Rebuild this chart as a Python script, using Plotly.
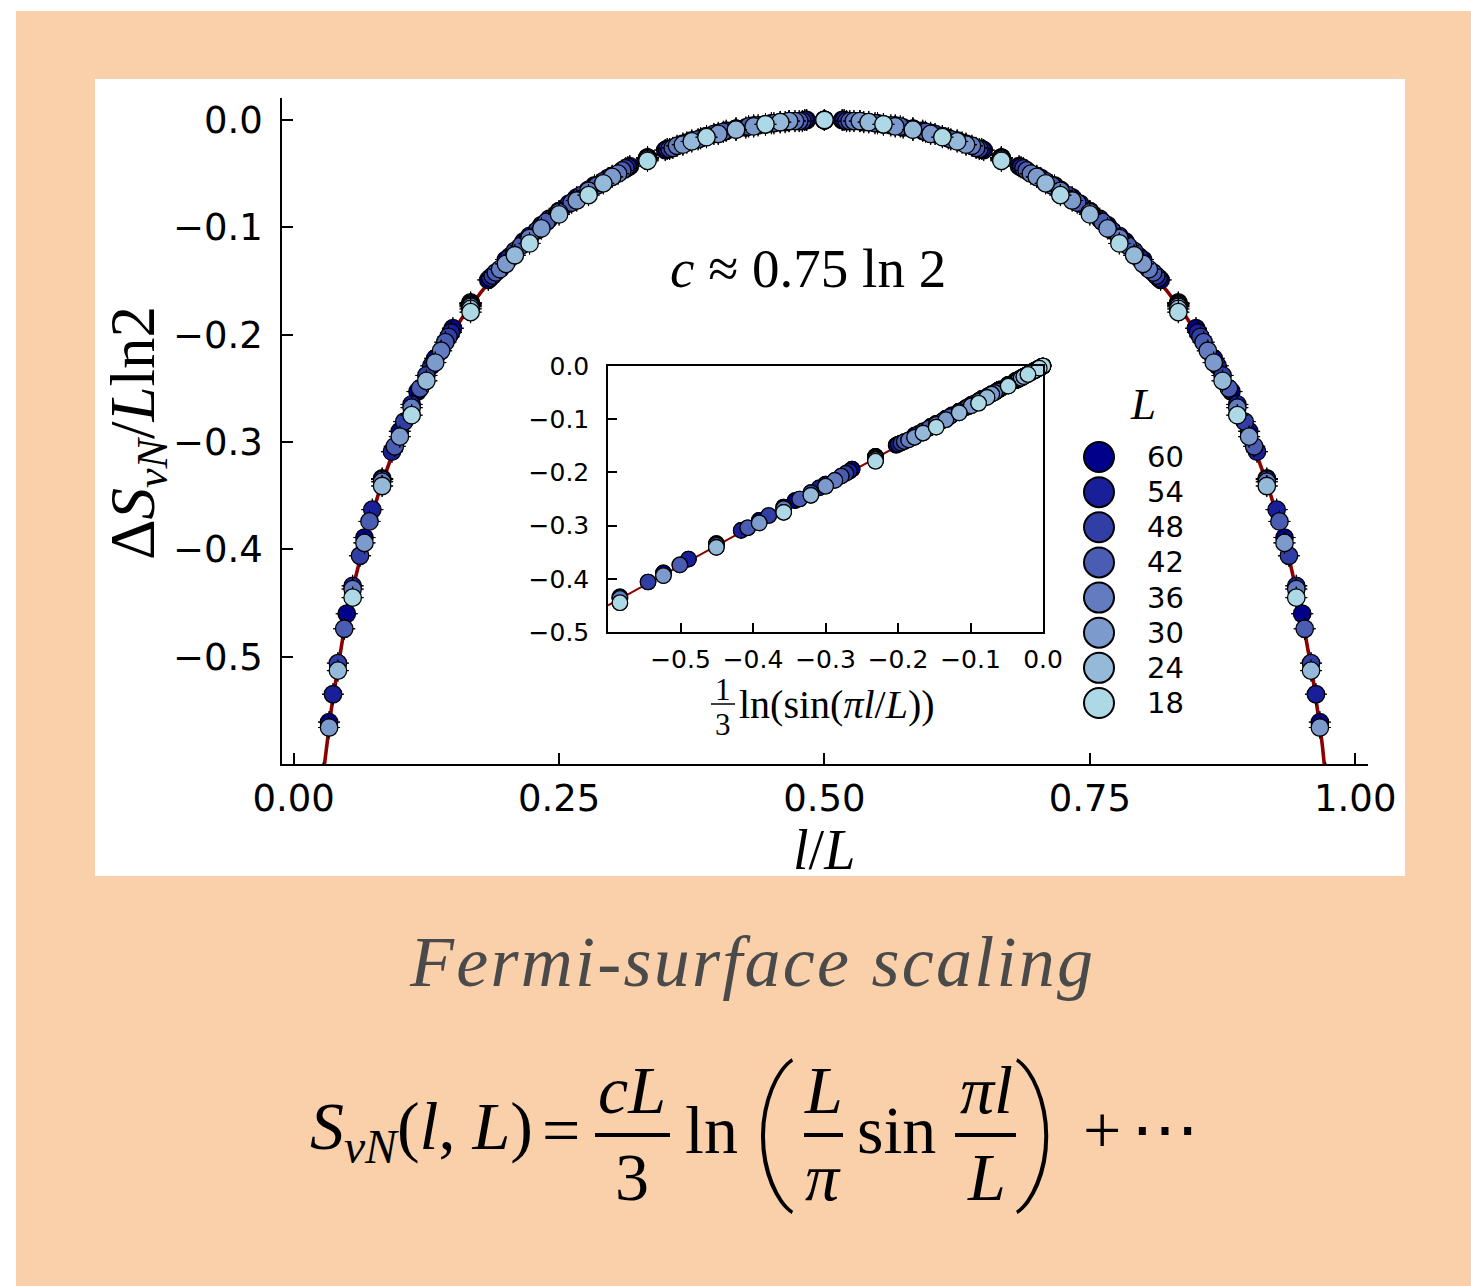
import numpy as np
import plotly.graph_objects as go

# ---------------- data ----------------
L_values = [60, 54, 48, 42, 36, 30, 24, 18]
colors = ["#00008b", "#191f98", "#313ea5", "#4a5db2", "#637bbf", "#7c9acc", "#94b9d9", "#add8e6"]
c_fit = 0.75  # c / ln2 of the fitted curve

# Delta S_vN / (L ln2) for l = 1 .. L-1
dS_L60 = [-0.733, -0.561, -0.460, -0.389, -0.334, -0.290, -0.253, -0.222, -0.194, -0.170, -0.149, -0.130,
          -0.113, -0.098, -0.085, -0.072, -0.061, -0.052, -0.043, -0.035, -0.028, -0.022, -0.017, -0.012,
          -0.008, -0.005, -0.003, -0.001, 0.0, 0.0, 0.0, -0.001, -0.003, -0.005, -0.008, -0.012, -0.017,
          -0.022, -0.028, -0.035, -0.043, -0.052, -0.061, -0.072, -0.085, -0.098, -0.113, -0.130, -0.149,
          -0.170, -0.194, -0.222, -0.253, -0.290, -0.334, -0.389, -0.460, -0.561, -0.733]
dS_L54 = [-0.708, -0.535, -0.434, -0.363, -0.309, -0.265, -0.229, -0.198, -0.171, -0.147, -0.127, -0.108,
          -0.092, -0.078, -0.065, -0.054, -0.044, -0.035, -0.027, -0.021, -0.015, -0.010, -0.007, -0.004,
          -0.002, 0.0, 0.0, 0.0, -0.002, -0.004, -0.007, -0.010, -0.015, -0.021, -0.027, -0.035, -0.044,
          -0.054, -0.065, -0.078, -0.092, -0.108, -0.127, -0.147, -0.171, -0.198, -0.229, -0.265, -0.309,
          -0.363, -0.434, -0.535, -0.708]
dS_L48 = [-0.679, -0.506, -0.406, -0.335, -0.281, -0.238, -0.202, -0.171, -0.145, -0.122, -0.103, -0.085,
          -0.070, -0.057, -0.045, -0.035, -0.027, -0.019, -0.013, -0.008, -0.005, -0.002, -0.001, 0.0,
          -0.001, -0.002, -0.005, -0.008, -0.013, -0.019, -0.027, -0.035, -0.045, -0.057, -0.070, -0.085,
          -0.103, -0.122, -0.145, -0.171, -0.202, -0.238, -0.281, -0.335, -0.406, -0.506, -0.679]
dS_L42 = [-0.647, -0.474, -0.374, -0.304, -0.250, -0.207, -0.172, -0.142, -0.117, -0.095, -0.077, -0.061,
          -0.047, -0.035, -0.026, -0.018, -0.011, -0.006, -0.003, -0.001, 0.0, -0.001, -0.003, -0.006,
          -0.011, -0.018, -0.026, -0.035, -0.047, -0.061, -0.077, -0.095, -0.117, -0.142, -0.172, -0.207,
          -0.250, -0.304, -0.374, -0.474, -0.647]
dS_L36 = [-0.609, -0.437, -0.337, -0.268, -0.215, -0.173, -0.139, -0.110, -0.086, -0.066, -0.050, -0.036,
          -0.024, -0.015, -0.009, -0.004, -0.001, 0.0, -0.001, -0.004, -0.009, -0.015, -0.024, -0.036,
          -0.050, -0.066, -0.086, -0.110, -0.139, -0.173, -0.215, -0.268, -0.337, -0.437, -0.609]
dS_L30 = [-0.566, -0.394, -0.295, -0.226, -0.174, -0.134, -0.101, -0.075, -0.053, -0.036, -0.023, -0.013,
          -0.006, -0.001, 0.0, -0.001, -0.006, -0.013, -0.023, -0.036, -0.053, -0.075, -0.101, -0.134,
          -0.174, -0.226, -0.295, -0.394, -0.566]
dS_L24 = [-0.513, -0.341, -0.243, -0.176, -0.126, -0.088, -0.059, -0.037, -0.020, -0.009, -0.002, 0.0,
          -0.002, -0.009, -0.020, -0.037, -0.059, -0.088, -0.126, -0.176, -0.243, -0.341, -0.513]
dS_L18 = [-0.445, -0.275, -0.179, -0.115, -0.070, -0.038, -0.016, -0.004, 0.0, -0.004, -0.016, -0.038,
          -0.070, -0.115, -0.179, -0.275, -0.445]
series = {60: dS_L60, 54: dS_L54, 48: dS_L48, 42: dS_L42, 36: dS_L36, 30: dS_L30, 24: dS_L24, 18: dS_L18}

main_xticks = [0, 0.25, 0.5, 0.75, 1]
main_xticktext = ["0.00", "0.25", "0.50", "0.75", "1.00"]
main_yticks = [0, -0.1, -0.2, -0.3, -0.4, -0.5]
ytick_text = ["0.0", "−0.1", "−0.2", "−0.3", "−0.4", "−0.5"]
inset_xticks = [-0.5, -0.4, -0.3, -0.2, -0.1, 0]
inset_xticktext = ["−0.5", "−0.4", "−0.3", "−0.2", "−0.1", "0.0"]

# ---------------- layout helpers ----------------
PL, PT, PW, PH = 282, 98, 1086, 666
def px(v): return (v - PL) / PW
def py(v): return (PT + PH - v) / PH

SERIF = "Liberation Serif"
SANS = "DejaVu Sans"
RED = "#8b0000"

fig = go.Figure()

# main panel: fitted curve then data
xf = np.linspace(0.001, 0.999, 900)
fig.add_trace(go.Scatter(x=xf, y=c_fit / 3 * np.log(np.sin(np.pi * xf)), mode="lines",
                         line=dict(color=RED, width=3.6), showlegend=False, hoverinfo="skip"))
for L, col in zip(L_values, colors):
    l = np.arange(1, L)
    z = np.zeros(L - 1)
    fig.add_trace(go.Scatter(x=l / L, y=series[L], mode="markers", name=str(L),
                             marker=dict(size=17.5, color=col, line=dict(color="black", width=1.3)),
                             error_x=dict(type="data", array=z, width=11, thickness=1, color="black"),
                             error_y=dict(type="data", array=z, width=11, thickness=1, color="black"),
                             showlegend=False))

# inset: vs (1/3) ln sin(pi l / L)
xi = np.linspace(-0.6, 0, 50)
fig.add_trace(go.Scatter(x=xi, y=c_fit * xi, mode="lines", line=dict(color=RED, width=2),
                         xaxis="x2", yaxis="y2", showlegend=False, hoverinfo="skip"))
for L, col in zip(L_values, colors):
    l = np.arange(1, L)
    xs = np.log(np.sin(np.pi * l / L)) / 3
    ys = np.array(series[L])
    m = xs >= -0.6
    fig.add_trace(go.Scatter(x=xs[m], y=ys[m], mode="markers", xaxis="x2", yaxis="y2", cliponaxis=False,
                             marker=dict(size=15.5, color=col, line=dict(color="black", width=1.2)),
                             showlegend=False))

# legend drawn as its own small panel
fig.add_trace(go.Scatter(x=[0] * len(L_values), y=list(range(len(L_values))), mode="markers",
                         xaxis="x3", yaxis="y3", cliponaxis=False, showlegend=False, hoverinfo="skip",
                         marker=dict(size=30, color=colors, line=dict(color="black", width=2))))

axstyle = dict(showgrid=False, zeroline=False, showline=True, linecolor="black", linewidth=1.5,
               ticks="inside", tickcolor="black", tickwidth=1.5)
fig.update_layout(
    width=1471, height=1286, autosize=False,
    margin=dict(l=PL, r=1471 - PL - PW, t=PT, b=1286 - PT - PH),
    paper_bgcolor="white", plot_bgcolor="white",
    xaxis=dict(domain=[0, 1], range=[-0.011, 1.012], tickvals=main_xticks, ticktext=main_xticktext,
               ticklen=11, tickfont=dict(family=SANS, size=37, color="black"), ticklabelstandoff=1, **axstyle),
    yaxis=dict(domain=[0, 1], range=[-0.6, 0.0205], tickvals=main_yticks, ticktext=ytick_text,
               ticklen=11, tickfont=dict(family=SANS, size=37, color="black"), ticklabelstandoff=10, **axstyle),
    xaxis2=dict(domain=[px(608), px(1043)], range=[-0.6, 0], anchor="y2", mirror=True,
                tickvals=inset_xticks, ticktext=inset_xticktext,
                ticklen=9, tickfont=dict(family=SANS, size=25, color="black"), ticklabelstandoff=4, **axstyle),
    yaxis2=dict(domain=[py(632), py(366)], range=[-0.5, 0], anchor="x2", mirror=True,
                tickvals=main_yticks, ticktext=ytick_text,
                ticklen=9, tickfont=dict(family=SANS, size=25, color="black"), ticklabelstandoff=12, **axstyle),
    xaxis3=dict(domain=[px(1079), px(1199)], range=[-1, 5], visible=False, anchor="y3"),
    yaxis3=dict(domain=[py(720), py(440)], range=[7.484, -0.484], visible=False, anchor="x3"),
)

shapes = [
    dict(type="rect", xref="paper", yref="paper", x0=px(16), x1=px(1480), y0=py(1300), y1=py(11),
         fillcolor="#f9d0aa", line=dict(width=0), layer="below"),
    dict(type="rect", xref="paper", yref="paper", x0=px(95), x1=px(1405), y0=py(876), y1=py(79),
         fillcolor="white", line=dict(width=0), layer="below"),
    dict(type="line", xref="paper", yref="paper", x0=px(711), x1=px(735), y0=py(704), y1=py(704),
         line=dict(color="black", width=1.5)),
]
for a, b in [(595, 670), (804, 843), (955, 1016)]:
    shapes.append(dict(type="line", xref="paper", yref="paper", x0=px(a), x1=px(b), y0=py(1135), y1=py(1135),
                       line=dict(color="black", width=4)))
fig.update_layout(shapes=shapes)

anns = []
def ann(text, xp, yp, size, family=SERIF, color="black", xanchor="center", angle=0, weight=None):
    font = dict(family=family, size=size, color=color)
    if weight is not None:
        font["weight"] = weight
    anns.append(dict(text=text, x=px(xp), y=py(yp), xref="paper", yref="paper", showarrow=False,
                     xanchor=xanchor, yanchor="middle", textangle=angle, font=font))

ann("Δ<i>S</i><sub><i>vN</i></sub>/<i>L</i>ln2", 137, 433, 63, angle=-90)
ann("<i>l</i>/<i>L</i>", 824, 850, 56)
ann("<i>c</i> ≈ 0.75 ln 2", 808, 268, 55)
ann("1", 723, 689, 31)
ann("3", 723, 724, 31)
ann("ln(sin(<i>πl</i>/<i>L</i>))", 737, 704, 40, xanchor="left")
ann("<i>L</i>", 1143, 404, 45)
for i, L in enumerate(L_values):
    anns.append(dict(text=str(L), x=2.3, y=i, xref="x3", yref="y3", showarrow=False, xanchor="left",
                     yanchor="middle", font=dict(family=SANS, size=29, color="black")))
SP = '<span style="font-size:9px"> </span>'
ann("<i>" + SP.join("Fermi-surface scaling") + "</i>", 751, 962, 72, color="#4a4a4a")
ann("<i>S</i><sub><i>vN</i></sub>(<i>l</i>, <i>L</i>)", 308, 1130, 68, xanchor="left")
ann("=", 561, 1130, 68)
ann("<i>cL</i>", 632, 1090, 68)
ann("3", 632, 1177, 68)
ann("ln", 711, 1130, 68)
ann("(", 772, 1127, 152, family="Roboto", weight=100)
ann("<i>L</i>", 823, 1090, 68)
ann("<i>π</i>", 823, 1177, 68)
ann("sin", 896, 1130, 68)
ann("<i>πl</i>", 986, 1090, 68)
ann("<i>L</i>", 986, 1177, 68)
ann(")", 1037, 1127, 152, family="Roboto", weight=100)
ann("+", 1102, 1130, 68)
ann("⋯", 1165, 1130, 68)
fig.update_layout(annotations=anns)

fig.write_html("out.html")
